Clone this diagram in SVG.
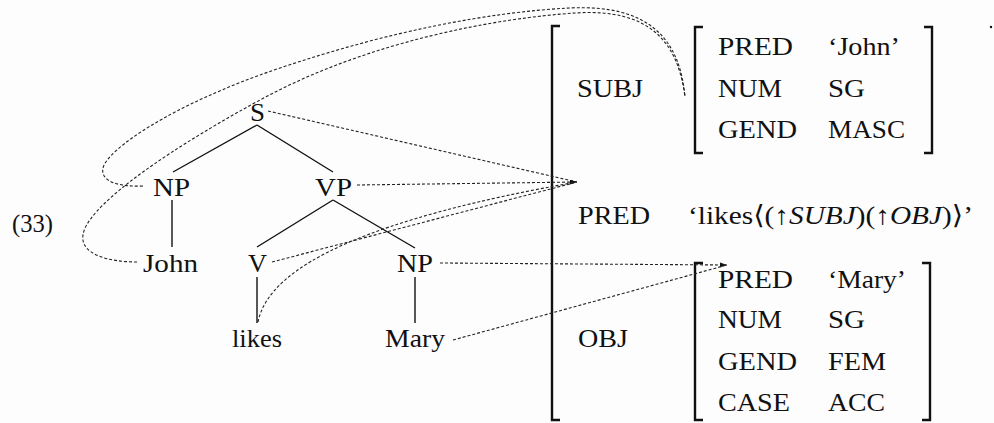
<svg xmlns="http://www.w3.org/2000/svg" width="994" height="423" viewBox="0 0 994 423">
<style>
text{font-family:"Liberation Serif","DejaVu Serif",serif;font-size:26px;fill:#111}
.tree{stroke:#111;stroke-width:1.4;fill:none}
.br{stroke:#111;stroke-width:2.4;fill:none}
.dot{stroke:#222;stroke-width:1.1;stroke-dasharray:3 2;fill:none}
.it{font-style:italic}
</style>
<defs>
<marker id="ah" viewBox="0 0 7 5" refX="7" refY="2.5" markerWidth="7" markerHeight="5" markerUnits="userSpaceOnUse" orient="auto">
<path d="M0,0 L7,2.5 L0,5 z" fill="#111"/>
</marker>
</defs>
<rect width="994" height="423" fill="#fefdfe"/>
<text id="ex" x="12" y="232" textLength="41" lengthAdjust="spacingAndGlyphs">(33)</text>
<g id="tree-edges">
<path class="tree" d="M257,125 L173,172 M257,125 L333,172 M172,200 V247 M333,200 L257,247 M333,200 L415,248 M257,277 V323 M415,277 V323"/>
</g>
<g id="S"><text x="250" y="121" textLength="15" lengthAdjust="spacingAndGlyphs">S</text></g>
<g id="NP1"><text x="153" y="196" textLength="37" lengthAdjust="spacingAndGlyphs">NP</text></g>
<g id="VP"><text x="315" y="196" textLength="37" lengthAdjust="spacingAndGlyphs">VP</text></g>
<g id="John"><text x="143" y="272" textLength="55" lengthAdjust="spacingAndGlyphs">John</text></g>
<g id="V"><text x="248" y="272" textLength="19" lengthAdjust="spacingAndGlyphs">V</text></g>
<g id="NP2"><text x="397" y="272" textLength="36" lengthAdjust="spacingAndGlyphs">NP</text></g>
<g id="likes"><text x="232" y="347" textLength="50" lengthAdjust="spacingAndGlyphs">likes</text></g>
<g id="Mary"><text x="385" y="347" textLength="60" lengthAdjust="spacingAndGlyphs">Mary</text></g>
<g id="fstructure">
<path class="br" d="M560,26 H552 V420 H560"/>
<path class="br" d="M703,27 H695 V153 H703 M924,27 H932 V153 H924"/>
<path class="br" d="M703,263 H695 V420 H703 M922,263 H930 V420 H922"/>
<circle cx="991" cy="27" r="1.2" fill="#111"/>
<text x="577" y="97" textLength="66" lengthAdjust="spacingAndGlyphs">SUBJ</text>
<text x="718" y="55" textLength="75" lengthAdjust="spacingAndGlyphs">PRED</text>
<text x="828" y="55" textLength="72" lengthAdjust="spacingAndGlyphs">‘John’</text>
<text x="718" y="97" textLength="64" lengthAdjust="spacingAndGlyphs">NUM</text>
<text x="828" y="97" textLength="37" lengthAdjust="spacingAndGlyphs">SG</text>
<text x="718" y="138" textLength="79" lengthAdjust="spacingAndGlyphs">GEND</text>
<text x="828" y="138" textLength="77" lengthAdjust="spacingAndGlyphs">MASC</text>
<text x="578" y="224" textLength="72" lengthAdjust="spacingAndGlyphs">PRED</text>
<text x="688" y="224" textLength="285" lengthAdjust="spacingAndGlyphs">‘likes⟨(↑<tspan class="it">SUBJ</tspan>)(↑<tspan class="it">OBJ</tspan>)⟩’</text>
<text x="578" y="347" textLength="50" lengthAdjust="spacingAndGlyphs">OBJ</text>
<text x="718" y="288" textLength="75" lengthAdjust="spacingAndGlyphs">PRED</text>
<text x="828" y="288" textLength="78" lengthAdjust="spacingAndGlyphs">‘Mary’</text>
<text x="718" y="328" textLength="64" lengthAdjust="spacingAndGlyphs">NUM</text>
<text x="828" y="328" textLength="37" lengthAdjust="spacingAndGlyphs">SG</text>
<text x="718" y="370" textLength="79" lengthAdjust="spacingAndGlyphs">GEND</text>
<text x="828" y="370" textLength="58" lengthAdjust="spacingAndGlyphs">FEM</text>
<text x="718" y="411" textLength="72" lengthAdjust="spacingAndGlyphs">CASE</text>
<text x="828" y="411" textLength="57" lengthAdjust="spacingAndGlyphs">ACC</text>
</g>
<g id="connectors">
<path class="dot" d="M268,111 L577,182"/>
<path class="dot" d="M357,185 L577,182" marker-end="url(#ah)"/>
<path class="dot" d="M272,262 L577,182"/>
<path class="dot" d="M258,322 Q275,235 577,182"/>
<path class="dot" d="M440,263 L727,265" marker-end="url(#ah)"/>
<path class="dot" d="M453,340 L727,265"/>
<path class="dot" d="M143,186 C120,187 100,182 103,168 C107,150 170,105 280,68 S490,12 570,8 S680,40 685,97"/>
<path class="dot" d="M137,262 C110,262 80,255 83,235 C86,210 150,160 260,100 S500,18 575,13 S678,42 685,97"/>
</g>
</svg>
